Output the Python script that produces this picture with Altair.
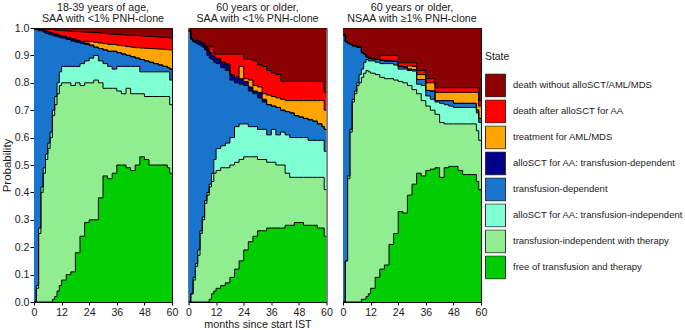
import altair as alt
import pandas as pd

months = [0, 1, 2, 3, 4, 5, 6, 7, 8, 9, 10, 11, 12, 14, 16, 18, 20, 22, 24, 26, 28, 30,
          32, 34, 36, 38, 40, 42, 44, 46, 48, 50, 52, 54, 56, 58, 59, 60]

states = ["free of transfusion and therapy",
          "transfusion-independent with therapy",
          "alloSCT for AA: transfusion-independent",
          "transfusion-dependent",
          "alloSCT for AA: transfusion-dependent",
          "treatment for AML/MDS",
          "death after alloSCT for AA",
          "death without alloSCT/AML/MDS"]
colors = ["#00CD00", "#90EE90", "#7FFFD4", "#1874CD", "#00008B", "#FFA500", "#FF0000", "#8B0000"]

titles = [["18-39 years of age,", "SAA with <1% PNH-clone"],
          ["60 years or older,", "SAA with <1% PNH-clone"],
          ["60 years or older,", "NSAA with \u22651% PNH-clone"]]

x_ticks = [0, 12, 24, 36, 48, 60]
y_ticks = [0.0, 0.1, 0.2, 0.3, 0.4, 0.5, 0.6, 0.7, 0.8, 0.9, 1.0]

# upper edge (cumulative probability) of each state, bottom state first
p1_free = [0, 0, 0, 0, 0, 0, 0, 0, 0.01, 0.02, 0.04, 0.06, 0.08, 0.10, 0.11, 0.18, 0.24, 0.29, 0.30, 0.30, 0.38, 0.46, 0.45, 0.47, 0.50, 0.50, 0.49, 0.48, 0.50, 0.53, 0.52, 0.50, 0.50, 0.50, 0.50, 0.49, 0.47, 0.47]
p1_indep = [0, 0.05, 0.25, 0.40, 0.47, 0.52, 0.56, 0.60, 0.68, 0.72, 0.76, 0.79, 0.80, 0.80, 0.79, 0.80, 0.79, 0.80, 0.80, 0.81, 0.80, 0.78, 0.78, 0.78, 0.77, 0.76, 0.78, 0.76, 0.76, 0.76, 0.75, 0.75, 0.75, 0.75, 0.75, 0.75, 0.72, 0.72]
p1_sct_indep = [0, 0.06, 0.27, 0.42, 0.49, 0.54, 0.58, 0.62, 0.70, 0.75, 0.80, 0.84, 0.86, 0.86, 0.86, 0.86, 0.87, 0.88, 0.89, 0.90, 0.88, 0.87, 0.86, 0.85, 0.86, 0.86, 0.86, 0.86, 0.86, 0.84, 0.84, 0.84, 0.84, 0.84, 0.84, 0.84, 0.81, 0.81]
p1_dep = [0.995, 0.993, 0.99, 0.99, 0.985, 0.98, 0.978, 0.975, 0.972, 0.97, 0.968, 0.965, 0.963, 0.958, 0.952, 0.948, 0.943, 0.94, 0.935, 0.93, 0.925, 0.92, 0.915, 0.915, 0.91, 0.905, 0.90, 0.895, 0.89, 0.885, 0.88, 0.875, 0.87, 0.865, 0.86, 0.855, 0.85, 0.85]
p1_sct_dep = [0.997, 0.996, 0.995, 0.995, 0.992, 0.988, 0.986, 0.983, 0.98, 0.978, 0.975, 0.972, 0.97, 0.965, 0.96, 0.955, 0.95, 0.945, 0.938, 0.93, 0.925, 0.92, 0.915, 0.915, 0.91, 0.905, 0.90, 0.895, 0.89, 0.885, 0.88, 0.875, 0.87, 0.865, 0.86, 0.855, 0.85, 0.85]
p1_aml = [0.997, 0.996, 0.995, 0.995, 0.992, 0.988, 0.986, 0.983, 0.98, 0.978, 0.975, 0.972, 0.97, 0.965, 0.96, 0.955, 0.95, 0.952, 0.95, 0.948, 0.945, 0.943, 0.94, 0.94, 0.937, 0.935, 0.932, 0.93, 0.928, 0.927, 0.926, 0.925, 0.924, 0.923, 0.922, 0.921, 0.92, 0.92]
p1_death_sct = [0.997, 0.996, 0.995, 0.995, 0.995, 0.995, 0.995, 0.995, 0.994, 0.993, 0.992, 0.991, 0.99, 0.989, 0.988, 0.987, 0.986, 0.985, 0.984, 0.983, 0.982, 0.98, 0.978, 0.977, 0.976, 0.975, 0.974, 0.973, 0.972, 0.971, 0.97, 0.969, 0.968, 0.967, 0.966, 0.965, 0.963, 0.963]

p2_free = [0, 0, 0, 0, 0, 0, 0, 0, 0, 0.01, 0.03, 0.04, 0.05, 0.06, 0.07, 0.09, 0.12, 0.15, 0.19, 0.22, 0.24, 0.26, 0.26, 0.27, 0.27, 0.27, 0.27, 0.28, 0.28, 0.29, 0.29, 0.28, 0.28, 0.28, 0.27, 0.27, 0.24, 0.24]
p2_indep = [0, 0.03, 0.08, 0.13, 0.17, 0.25, 0.30, 0.36, 0.39, 0.42, 0.44, 0.47, 0.48, 0.49, 0.49, 0.50, 0.51, 0.52, 0.53, 0.53, 0.53, 0.52, 0.52, 0.51, 0.51, 0.50, 0.50, 0.47, 0.455, 0.455, 0.455, 0.455, 0.455, 0.455, 0.455, 0.455, 0.41, 0.41]
p2_sct_indep = [0, 0.03, 0.09, 0.14, 0.19, 0.26, 0.31, 0.37, 0.40, 0.43, 0.47, 0.52, 0.56, 0.57, 0.58, 0.60, 0.64, 0.65, 0.65, 0.64, 0.64, 0.63, 0.63, 0.61, 0.63, 0.61, 0.62, 0.61, 0.60, 0.60, 0.60, 0.60, 0.59, 0.59, 0.59, 0.59, 0.55, 0.55]
p2_dep = [0.99, 0.96, 0.95, 0.945, 0.94, 0.935, 0.93, 0.92, 0.90, 0.89, 0.885, 0.875, 0.87, 0.855, 0.845, 0.81, 0.80, 0.795, 0.79, 0.77, 0.76, 0.745, 0.73, 0.72, 0.715, 0.71, 0.70, 0.695, 0.69, 0.68, 0.675, 0.67, 0.665, 0.66, 0.65, 0.64, 0.63, 0.63]
p2_sct_dep = [0.99, 0.96, 0.95, 0.955, 0.952, 0.948, 0.943, 0.935, 0.92, 0.91, 0.90, 0.893, 0.888, 0.875, 0.868, 0.83, 0.82, 0.815, 0.805, 0.785, 0.77, 0.765, 0.74, 0.72, 0.715, 0.71, 0.70, 0.695, 0.69, 0.68, 0.675, 0.67, 0.665, 0.66, 0.65, 0.64, 0.63, 0.63]
p2_aml = [0.99, 0.96, 0.95, 0.955, 0.952, 0.948, 0.943, 0.935, 0.92, 0.91, 0.90, 0.893, 0.888, 0.875, 0.868, 0.83, 0.82, 0.86, 0.815, 0.81, 0.79, 0.785, 0.76, 0.755, 0.75, 0.745, 0.74, 0.735, 0.735, 0.735, 0.735, 0.735, 0.735, 0.735, 0.735, 0.735, 0.70, 0.70]
p2_death_sct = [0.99, 0.96, 0.95, 0.955, 0.952, 0.948, 0.943, 0.935, 0.92, 0.935, 0.93, 0.905, 0.905, 0.905, 0.905, 0.905, 0.905, 0.905, 0.885, 0.885, 0.88, 0.865, 0.86, 0.845, 0.835, 0.83, 0.805, 0.805, 0.805, 0.805, 0.805, 0.805, 0.805, 0.805, 0.805, 0.805, 0.765, 0.765]

p3_free = [0, 0, 0, 0, 0, 0, 0, 0, 0.01, 0.01, 0.02, 0.03, 0.05, 0.09, 0.12, 0.135, 0.21, 0.25, 0.33, 0.325, 0.39, 0.43, 0.47, 0.46, 0.48, 0.485, 0.49, 0.455, 0.49, 0.495, 0.495, 0.48, 0.465, 0.465, 0.465, 0.44, 0.41, 0.41]
p3_indep = [0, 0.15, 0.45, 0.62, 0.73, 0.76, 0.79, 0.80, 0.82, 0.835, 0.845, 0.84, 0.835, 0.83, 0.82, 0.815, 0.815, 0.81, 0.805, 0.80, 0.79, 0.775, 0.76, 0.735, 0.715, 0.70, 0.685, 0.655, 0.65, 0.65, 0.65, 0.65, 0.65, 0.65, 0.65, 0.625, 0.59, 0.59]
p3_sct_indep = [0, 0.15, 0.46, 0.63, 0.74, 0.77, 0.80, 0.83, 0.85, 0.875, 0.885, 0.88, 0.88, 0.875, 0.87, 0.87, 0.87, 0.865, 0.85, 0.85, 0.845, 0.843, 0.795, 0.79, 0.752, 0.74, 0.73, 0.725, 0.72, 0.715, 0.71, 0.71, 0.71, 0.71, 0.71, 0.69, 0.655, 0.655]
p3_dep = [0.975, 0.95, 0.945, 0.94, 0.935, 0.935, 0.93, 0.93, 0.91, 0.905, 0.895, 0.89, 0.888, 0.885, 0.882, 0.88, 0.88, 0.878, 0.86, 0.858, 0.85, 0.848, 0.812, 0.812, 0.772, 0.77, 0.735, 0.735, 0.735, 0.735, 0.725, 0.725, 0.725, 0.725, 0.725, 0.70, 0.67, 0.67]
p3_sct_dep = [0.975, 0.95, 0.945, 0.94, 0.935, 0.935, 0.93, 0.93, 0.91, 0.905, 0.895, 0.89, 0.888, 0.885, 0.882, 0.88, 0.88, 0.878, 0.86, 0.858, 0.85, 0.848, 0.812, 0.812, 0.772, 0.77, 0.735, 0.735, 0.735, 0.735, 0.725, 0.725, 0.725, 0.725, 0.725, 0.70, 0.67, 0.67]
p3_aml = [0.975, 0.95, 0.945, 0.94, 0.935, 0.935, 0.93, 0.93, 0.91, 0.905, 0.895, 0.89, 0.888, 0.885, 0.882, 0.88, 0.88, 0.878, 0.86, 0.858, 0.862, 0.86, 0.83, 0.83, 0.80, 0.80, 0.765, 0.765, 0.765, 0.765, 0.765, 0.765, 0.765, 0.765, 0.765, 0.765, 0.715, 0.715]
p3_death_sct = [0.975, 0.95, 0.945, 0.94, 0.935, 0.935, 0.93, 0.93, 0.91, 0.905, 0.895, 0.89, 0.888, 0.885, 0.90, 0.90, 0.90, 0.90, 0.873, 0.873, 0.873, 0.873, 0.845, 0.845, 0.815, 0.815, 0.782, 0.782, 0.782, 0.782, 0.782, 0.782, 0.782, 0.782, 0.782, 0.782, 0.735, 0.735]

panels = [
    [p1_free, p1_indep, p1_sct_indep, p1_dep, p1_sct_dep, p1_aml, p1_death_sct],
    [p2_free, p2_indep, p2_sct_indep, p2_dep, p2_sct_dep, p2_aml, p2_death_sct],
    [p3_free, p3_indep, p3_sct_indep, p3_dep, p3_sct_dep, p3_aml, p3_death_sct],
]

FONT = "Liberation Sans"
TXT = "#1a1a1a"
W, H = 138, 274
legend_domain = states[::-1]
legend_range = colors[::-1]


def build(bounds):
    edges = [[0.0] * len(months)] + bounds + [[1.0] * len(months)]
    arows, lrows = [], []
    for i, s in enumerate(states):
        for j, t in enumerate(months):
            arows.append({"t": t, "lo": edges[i][j], "hi": edges[i + 1][j], "state": s})
    for k in range(1, len(edges)):
        for j, t in enumerate(months):
            lrows.append({"t": t, "lo": edges[k][j], "b": k})
    return pd.DataFrame(arows), pd.DataFrame(lrows)


legend = alt.Legend(
    title="State", orient="none", legendX=451, legendY=24,
    titleFontSize=10.4, titleFontWeight="normal", titleFont=FONT, titleColor=TXT,
    titlePadding=11, labelFontSize=9.5, labelFont=FONT, labelColor=TXT, labelLimit=200,
    symbolType="M-1,-1.15H1V1.15H-1Z", symbolSize=400,
    symbolStrokeColor="#333333", symbolStrokeWidth=1, symbolOpacity=1,
    clipHeight=24, rowPadding=2, labelOffset=7,
)

charts = []
for idx, bounds in enumerate(panels):
    adf, ldf = build(bounds)
    tdf = pd.DataFrame({"line1": [titles[idx][0]], "line2": [titles[idx][1]]})
    xaxis = alt.Axis(values=x_ticks, grid=False, domain=False,
                     tickSize=3, tickColor="black", labelFontSize=10.6, labelColor=TXT,
                     labelFont=FONT, labelPadding=2, labelOverlap=False, labelFlush=False,
                     title="months since start IST" if idx == 1 else None,
                     titleFontSize=10.8, titleFontWeight="normal", titleFont=FONT,
                     titleColor=TXT, titlePadding=1)
    xs = alt.X("t:Q", scale=alt.Scale(domain=[0, 60], nice=False, zero=False), axis=xaxis)
    if idx == 0:
        yaxis = alt.Axis(values=y_ticks, format=".1f",
                         grid=False, domain=False, tickSize=4, tickColor="black",
                         labelFontSize=10.6, labelColor=TXT, labelFont=FONT, labelPadding=1,
                         labelOverlap=False, labelFlush=False,
                         title="Probability", titleFontSize=11.5, titleFontWeight="normal",
                         titleFont=FONT, titleColor=TXT, titlePadding=2)
        ys = alt.Y("lo:Q", scale=alt.Scale(domain=[0, 1], nice=False), stack=False, axis=yaxis)
    else:
        ys = alt.Y("lo:Q", scale=alt.Scale(domain=[0, 1], nice=False), stack=False, axis=None)

    area = alt.Chart(adf).mark_area(interpolate="step-after", clip=True).encode(
        x=xs,
        y=ys,
        y2="hi:Q",
        color=alt.Color("state:N", scale=alt.Scale(domain=legend_domain, range=legend_range),
                        legend=legend),
    )
    lines = alt.Chart(ldf).mark_line(interpolate="step-after", color="black",
                                      strokeWidth=1, clip=True).encode(
        x=xs, y=ys, detail="b:N")
    t1 = alt.Chart(tdf).mark_text(font=FONT, fontSize=10.7, color=TXT,
                                  align="center", baseline="alphabetic").encode(
        x=alt.value(W / 2), y=alt.value(-17.5), text="line1:N")
    t2 = alt.Chart(tdf).mark_text(font=FONT, fontSize=10.7, color=TXT,
                                  align="center", baseline="alphabetic").encode(
        x=alt.value(W / 2), y=alt.value(-6), text="line2:N")
    ch = alt.layer(area, lines, t1, t2).properties(width=W, height=H)
    charts.append(ch)

chart = alt.hconcat(*charts, spacing=5.5).properties(
    padding={"left": 0, "top": 1, "right": 0, "bottom": 0}
).configure_view(stroke="black", strokeWidth=1).configure_axis(labelOverlap=False)

chart.save("out.html", embed_options={"renderer": "svg", "actions": False})
